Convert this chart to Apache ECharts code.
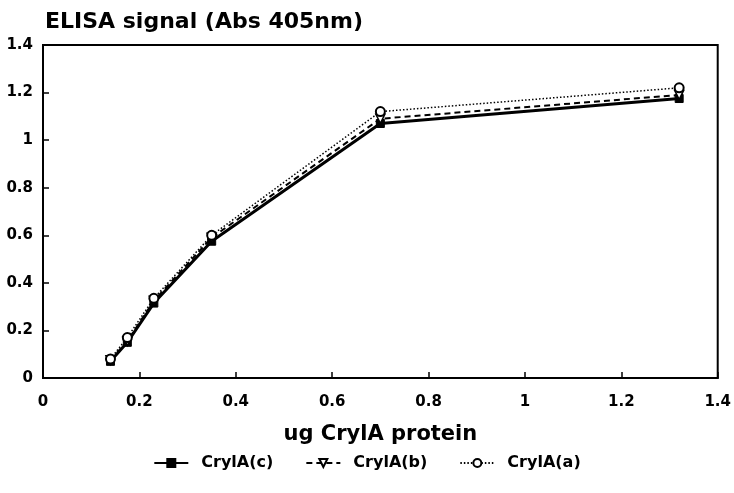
<!DOCTYPE html>
<html>
<head>
<meta charset="utf-8">
<script src="https://cdn.jsdelivr.net/npm/echarts@6/dist/echarts.min.js"></script>
<style>
html,body{margin:0;padding:0;background:#fff;}
#chart{width:734px;height:493px;}
</style>
</head>
<body>
<div id="chart"></div>
<script>
// Amount of CrylA protein coated per well (ug)
var protein = [0.14, 0.175, 0.23, 0.35, 0.70, 1.32];
// ELISA absorbance at 405 nm for each toxin
var crylAc = [0.07, 0.15, 0.315, 0.575, 1.07, 1.175];
var crylAb = [0.075, 0.155, 0.325, 0.59, 1.09, 1.19];
var crylAa = [0.08, 0.17, 0.335, 0.60, 1.12, 1.22];
var seriesNames = ['CrylA(c)', 'CrylA(b)', 'CrylA(a)'];

function pairs(ys) {
  return protein.map(function (x, i) { return [x, ys[i]]; });
}

var font = '"DejaVu Sans", Verdana, sans-serif';
var chart = echarts.init(document.getElementById('chart'));
chart.setOption({
  animation: false,
  backgroundColor: '#fff',
  title: {
    text: 'ELISA signal (Abs 405nm)',
    left: 40, top: 6,
    textStyle: { fontFamily: font, fontWeight: 'bold', fontSize: 22, color: '#000' }
  },
  grid: {
    left: 43, right: 15, top: 45, bottom: 115,
    show: true, borderColor: '#000', borderWidth: 2, backgroundColor: 'transparent'
  },
  xAxis: {
    type: 'value', min: 0, max: 1.4, interval: 0.2,
    name: 'ug CrylA protein', nameLocation: 'middle', nameGap: 46,
    nameTextStyle: { fontFamily: font, fontWeight: 'bold', fontSize: 21, color: '#000' },
    axisLine: { show: true, lineStyle: { color: '#000', width: 2 } },
    axisTick: { show: true, inside: true, length: 6, lineStyle: { color: '#000', width: 1.5 } },
    axisLabel: {
      fontFamily: font, fontWeight: 'bold', fontSize: 15, color: '#000', margin: 17,
      formatter: function (v) { return String(+v.toFixed(1)); }
    },
    splitLine: { show: false }
  },
  yAxis: {
    type: 'value', min: 0, max: 1.4, interval: 0.2,
    axisLine: { show: true, lineStyle: { color: '#000', width: 2 } },
    axisTick: { show: true, inside: true, length: 6, lineStyle: { color: '#000', width: 1.5 } },
    axisLabel: {
      fontFamily: font, fontWeight: 'bold', fontSize: 15, color: '#000', margin: 10,
      formatter: function (v) { return String(+v.toFixed(1)); }
    },
    splitLine: { show: false }
  },
  legend: {
    bottom: 17, left: 'center', itemGap: 32, itemWidth: 34, itemHeight: 10,
    data: seriesNames,
    textStyle: { fontFamily: font, fontWeight: 'bold', fontSize: 16, color: '#000', padding: [0, 0, 0, 8] }
  },
  series: [
    {
      name: seriesNames[0], type: 'line', data: pairs(crylAc), z: 3,
      symbol: 'rect', symbolSize: 8,
      lineStyle: { color: '#000', width: 3, type: 'solid' },
      itemStyle: { color: '#000', borderColor: '#000', borderWidth: 1 }
    },
    {
      name: seriesNames[1], type: 'line', data: pairs(crylAb), z: 4,
      symbol: 'triangle', symbolRotate: 180, symbolSize: 9,
      lineStyle: { color: '#000', width: 2, type: [6, 4] },
      itemStyle: { color: '#fff', borderColor: '#000', borderWidth: 1.5 }
    },
    {
      name: seriesNames[2], type: 'line', data: pairs(crylAa), z: 5,
      symbol: 'circle', symbolSize: 9,
      lineStyle: { color: '#000', width: 1.5, type: [1.5, 2] },
      itemStyle: { color: '#fff', borderColor: '#000', borderWidth: 2 }
    }
  ]
});
</script>
</body>
</html>
